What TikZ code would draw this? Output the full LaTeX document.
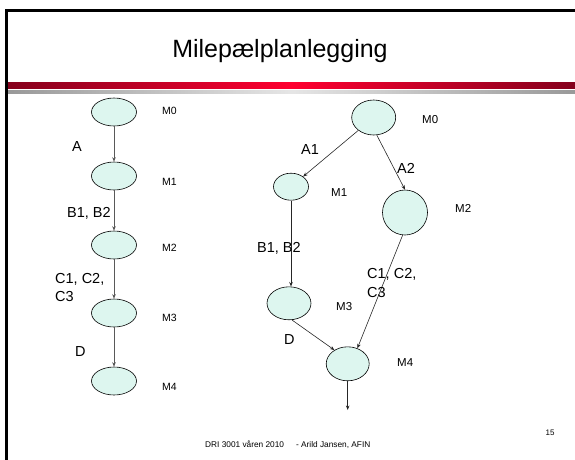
\documentclass[tikz,border=0pt]{standalone}
\usepackage{fontspec}
\setmainfont{Liberation Sans}
\usetikzlibrary{shapes.geometric,arrows.meta}
\definecolor{mint}{HTML}{DDF6EF}
\definecolor{darkred}{HTML}{85001C}
\definecolor{brightred}{HTML}{FF0030}
\begin{document}
\begin{tikzpicture}[x=1pt,y=-1pt,
  ms/.style={ellipse,draw=black,line width=0.6pt,fill=mint,inner sep=0pt},
  arrL/.style={draw=black!65,line width=0.6pt,-{Stealth[length=4.5pt,width=3.5pt]}},
  arrR/.style={draw=black!85,line width=0.6pt,-{Stealth[length=4.5pt,width=3.5pt]}},
  mlabL/.style={anchor=west,inner sep=0pt,font=\fontsize{10.5}{12}\selectfont},
  mlabR/.style={anchor=west,inner sep=0pt,font=\fontsize{11.5}{13}\selectfont},
  alab/.style={anchor=west,inner sep=0pt,font=\fontsize{14.5}{17}\selectfont}]
\useasboundingbox (0,0) rectangle (575,459);
% frame
\draw[line width=3pt,line join=miter] (6.5,460) -- (6.5,10.5) -- (577,10.5);
% bars
\shade[left color=darkred,right color=darkred,middle color=brightred] (8,82) rectangle (575,88);
\shade[left color=black!40,right color=black!40,middle color=black!10] (8,90) rectangle (575,93);
% title
\node[font=\fontsize{25}{30}\selectfont] (title) at (280,51) {Milepælplanlegging};
% left graph
\node[ms,minimum width=45pt,minimum height=28pt] (L0) at (114,112) {};
\node[ms,minimum width=45pt,minimum height=28pt] (L1) at (114,176) {};
\node[ms,minimum width=45pt,minimum height=28pt] (L2) at (114,245) {};
\node[ms,minimum width=45pt,minimum height=28pt] (L3) at (114,313) {};
\node[ms,minimum width=45pt,minimum height=28pt] (L4) at (114,381) {};
\draw[arrL] (L0) -- (L1);
\draw[arrL] (L1) -- (L2);
\draw[arrL] (L2) -- (L3);
\draw[arrL] (L3) -- (L4);
\node[mlabL] (lm0) at (162,111) {M0};
\node[mlabL] (lm1) at (162,182) {M1};
\node[mlabL] (lm2) at (162,248) {M2};
\node[mlabL] (lm3) at (162,318) {M3};
\node[mlabL] (lm4) at (162,387) {M4};
\node[alab] (la) at (72,147) {A};
\node[alab] (lb) at (67,213) {B1, B2};
\node[alab] (lc1) at (55,279) {C1, C2,};
\node[alab] (lc2) at (55,296) {C3};
\node[alab] (ld) at (75,352) {D};
% right graph
\node[ms,minimum width=44pt,minimum height=35pt] (R0) at (373.7,117.5) {};
\node[ms,minimum width=35pt,minimum height=27pt] (R1) at (291,186.7) {};
\node[ms,minimum width=45pt,minimum height=45pt] (R2) at (405,212.5) {};
\node[ms,minimum width=44pt,minimum height=33pt] (R3) at (289,303.3) {};
\node[ms,minimum width=43pt,minimum height=34pt] (R4) at (347.7,363.8) {};
\coordinate (Rout) at (347.7,410);
\draw[arrR] (R0) -- (R1);
\draw[arrR] (R0.-80) -- (R2.north);
\draw[arrR] (R1) -- (R1 |- R3.north);
\draw[arrR] (R2.-96) -- (R4.58);
\draw[arrR] (R3.-80) -- (R4.134);
\draw[arrR] (R4.south) -- (Rout);
\node[mlabR] (rm0) at (422,120) {M0};
\node[mlabR] (rm1) at (331,193) {M1};
\node[mlabR] (rm2) at (455,208) {M2};
\node[mlabR] (rm3) at (336,307) {M3};
\node[mlabR] (rm4) at (397,363) {M4};
\node[alab] (ra1) at (301,150) {A1};
\node[alab] (ra2) at (397,168) {A2};
\node[alab] (rb) at (257,248) {B1, B2};
\node[alab] (rc1) at (367,274) {C1, C2,};
\node[alab] (rc2) at (367,292) {C3};
\node[alab] (rd) at (284,340) {D};
% footer
\node[font=\fontsize{8}{9}\selectfont] (pg) at (550,433) {15};
\node[anchor=west,inner sep=0pt,font=\fontsize{8.3}{10}\selectfont] (foot) at (205,445) {DRI 3001 våren 2010\hspace{12pt}- Arild Jansen, AFIN};
\end{tikzpicture}
\end{document}
